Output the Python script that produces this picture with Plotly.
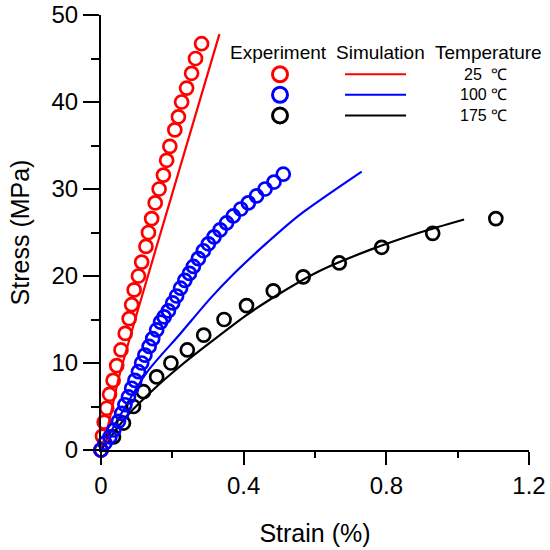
import plotly.graph_objects as go

FONT = "Liberation Sans, Arial, sans-serif"

# Experimental data (strain %, stress MPa)
exp25_x = [0, 0.004, 0.009, 0.016, 0.024, 0.034, 0.044, 0.056, 0.068, 0.079, 0.086, 0.093,
           0.105, 0.114, 0.126, 0.133, 0.142, 0.152, 0.163, 0.175, 0.184, 0.193, 0.207,
           0.217, 0.226, 0.240, 0.254, 0.265, 0.282]
exp25_y = [0, 1.6, 3.2, 4.8, 6.4, 8.0, 9.7, 11.5, 13.4, 15.1, 16.7, 18.4,
           20.0, 21.6, 23.4, 25.0, 26.6, 28.4, 30.0, 31.6, 33.3, 34.9, 36.8,
           38.3, 40.0, 41.6, 43.3, 45.0, 46.7]

exp100_x = [0, 0.011, 0.025, 0.036, 0.049, 0.058, 0.067, 0.077, 0.086, 0.095, 0.105, 0.114,
            0.123, 0.135, 0.145, 0.156, 0.167, 0.177, 0.189, 0.201, 0.212, 0.223, 0.235,
            0.248, 0.259, 0.273, 0.287, 0.301, 0.317, 0.334, 0.352, 0.371, 0.392, 0.413,
            0.436, 0.460, 0.485, 0.511]
exp100_y = [0, 0.8, 1.5, 2.3, 3.3, 4.2, 5.2, 6.1, 7.1, 8.0, 9.0, 10.0,
            10.9, 11.9, 12.8, 13.8, 14.7, 15.3, 16.0, 16.9, 17.7, 18.6, 19.5,
            20.3, 21.1, 22.0, 22.9, 23.7, 24.5, 25.3, 26.1, 26.9, 27.7, 28.4,
            29.2, 30.0, 30.8, 31.7]

exp175_x = [0, 0.035, 0.063, 0.091, 0.119, 0.156, 0.196, 0.242, 0.288, 0.345, 0.408,
            0.483, 0.567, 0.668, 0.787, 0.930, 1.107]
exp175_y = [0, 1.5, 3.1, 5.0, 6.7, 8.4, 10.0, 11.5, 13.2, 15.0, 16.6,
            18.3, 19.9, 21.5, 23.3, 24.9, 26.6]

# Simulation curves
sim25_x = [0, 0.02, 0.05, 0.10, 0.20, 0.332]
sim25_y = [0, 2.8, 8.3, 15.6, 29.5, 47.8]

sim100_x = [0, 0.05, 0.128, 0.221, 0.306, 0.371, 0.465, 0.556, 0.731]
sim100_y = [0, 3.7, 8.9, 13.3, 17.4, 20.2, 23.8, 27.0, 32.0]

sim175_x = [0, 0.077, 0.151, 0.221, 0.292, 0.408, 0.474, 0.614, 0.754, 0.894, 1.018]
sim175_y = [0, 4.1, 7.1, 9.6, 11.9, 15.5, 17.3, 20.6, 23.0, 25.0, 26.5]

colors = ["#FF0000", "#0000FF", "#000000"]
temps = ["25  ℃", "100 ℃", "175 ℃"]

fig = go.Figure()
for sx, sy, c in [(sim25_x, sim25_y, colors[0]), (sim100_x, sim100_y, colors[1]),
                  (sim175_x, sim175_y, colors[2])]:
    fig.add_trace(go.Scatter(x=sx, y=sy, mode="lines", line=dict(color=c, width=2.2),
                             line_shape="spline", line_smoothing=0.8,
                             showlegend=False, cliponaxis=False))
for ex, ey, c in [(exp175_x, exp175_y, colors[2]), (exp25_x, exp25_y, colors[0]),
                  (exp100_x, exp100_y, colors[1])]:
    fig.add_trace(go.Scatter(x=ex, y=ey, mode="markers",
                             marker=dict(symbol="circle-open", size=13,
                                         line=dict(color=c, width=2.7), color=c),
                             showlegend=False, cliponaxis=False))

# Plot area in pixels: x 101..529, y 15..450
L, R, T, B = 101, 529, 15, 450
W, H = R - L, B - T


def px(x):
    return (x - L) / W


def py(y):
    return (B - y) / H


shapes = []
annotations = []
for txt, cx in [("Experiment", 278), ("Simulation", 380), ("Temperature", 488)]:
    annotations.append(dict(text=txt, x=px(cx), y=py(52.5), xref="paper", yref="paper",
                            xanchor="center", yanchor="middle", showarrow=False,
                            font=dict(family=FONT, size=19, color="black")))
rows = [74.3, 94.8, 115.5]
for c, t, ry in zip(colors, temps, rows):
    shapes.append(dict(type="circle", xref="paper", yref="paper",
                       xsizemode="pixel", ysizemode="pixel",
                       xanchor=px(280), yanchor=py(ry),
                       x0=-7.5, x1=7.5, y0=-7.5, y1=7.5,
                       line=dict(color=c, width=3)))
    shapes.append(dict(type="line", xref="paper", yref="paper",
                       x0=px(345), x1=px(406), y0=py(ry), y1=py(ry),
                       line=dict(color=c, width=2)))
    annotations.append(dict(text=t, x=px(509), y=py(ry), xref="paper", yref="paper",
                            xanchor="right", yanchor="middle", showarrow=False,
                            font=dict(family=FONT, size=16, color="black")))

fig.update_layout(
    width=550, height=550,
    margin=dict(l=L, r=550 - R, t=T, b=550 - B),
    paper_bgcolor="white", plot_bgcolor="white",
    shapes=shapes, annotations=annotations,
    font=dict(family=FONT, color="black"),
    xaxis=dict(range=[0, 1.2], tickvals=[0, 0.4, 0.8, 1.2], ticktext=["0", "0.4", "0.8", "1.2"],
               automargin=False,
               showgrid=False, zeroline=False, showline=True, linecolor="black", linewidth=2,
               ticks="outside", ticklen=13, tickwidth=2, tickcolor="black",
               minor=dict(tickvals=[0.2, 0.6, 1.0], ticks="outside", ticklen=6, tickwidth=2,
                          tickcolor="black"),
               tickfont=dict(family=FONT, size=24),
               title=dict(text="Strain (%)", font=dict(family=FONT, size=25), standoff=27)),
    yaxis=dict(range=[0, 50], tickvals=[0, 10, 20, 30, 40, 50],
               automargin=False,
               showgrid=False, zeroline=False, showline=True, linecolor="black", linewidth=2,
               ticks="outside", ticklen=16, tickwidth=2, tickcolor="black",
               minor=dict(tickvals=[5, 15, 25, 35, 45], ticks="outside", ticklen=8, tickwidth=2,
                          tickcolor="black"),
               tickfont=dict(family=FONT, size=24),
               title=dict(text="Stress (MPa)", font=dict(family=FONT, size=25), standoff=15)),
)

fig.write_html("out.html")
